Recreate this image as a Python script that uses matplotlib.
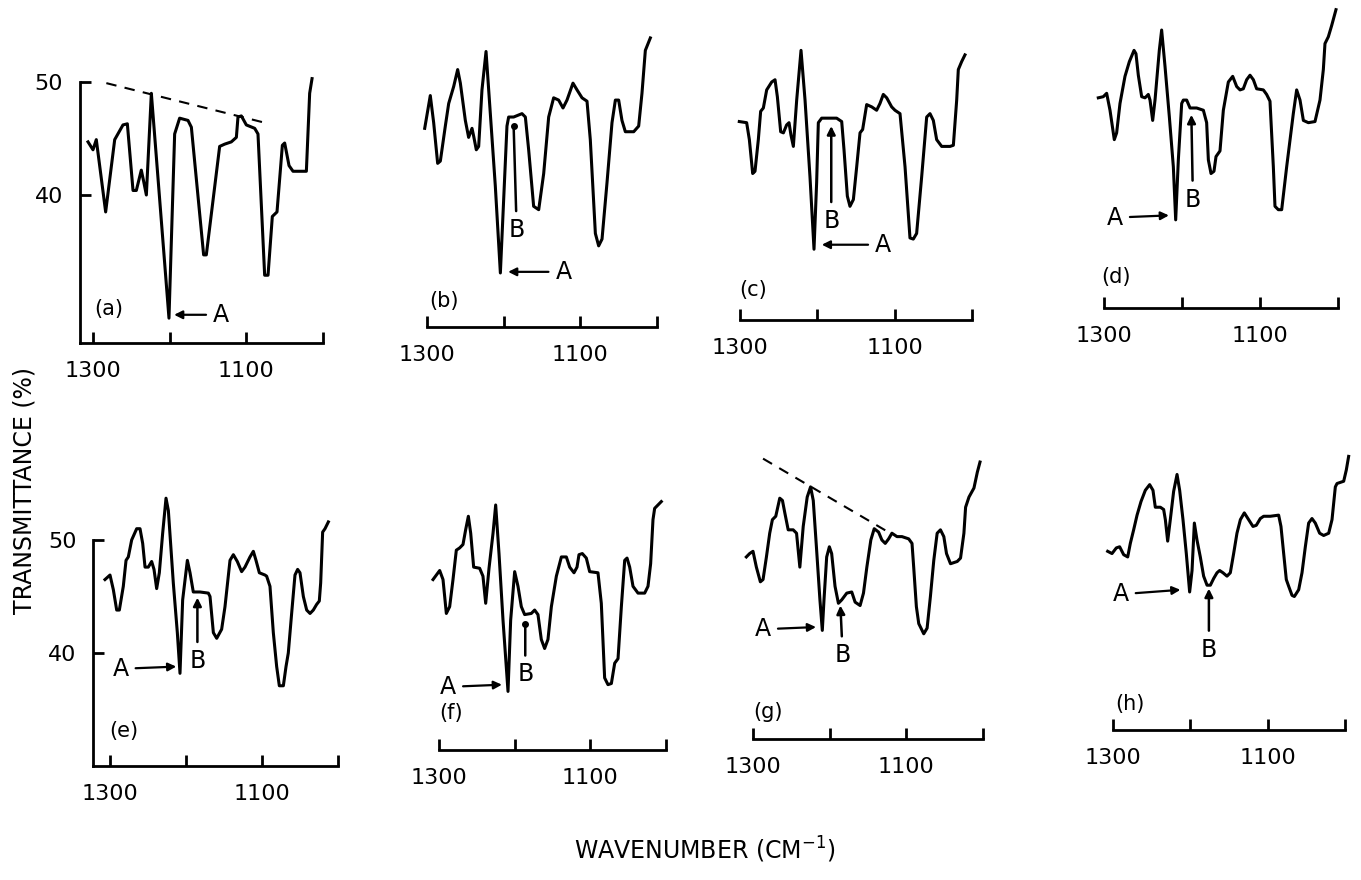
import matplotlib
matplotlib.use("Agg")
import matplotlib.pyplot as plt

# IR spectra, 1300-1000 cm-1, transmittance (%)
wn_a = [1306.5, 1300, 1295.7, 1283.5, 1271.7, 1260.9, 1255.2, 1247.8, 1243.5, 1237, 1233.9, 1230.4,
        1223.9, 1200.9, 1193.5, 1187, 1176.1, 1171.7, 1155.7, 1152.2, 1134.8, 1128.3, 1119.6, 1113,
        1110.9, 1106.5, 1100, 1089.1, 1084.8, 1076.1, 1071.7, 1066.1, 1060, 1053, 1050, 1044.3,
        1039.1, 1021.7, 1017.4, 1014.3]
tr_a = [44.7, 44.0, 44.9, 38.5, 44.9, 46.2, 46.3, 40.4, 40.4, 42.2, 41.2, 40.0,
        49.0, 29.1, 45.4, 46.8, 46.6, 46.0, 34.7, 34.7, 44.3, 44.5, 44.7, 45.1,
        46.9, 47.0, 46.2, 45.9, 45.4, 32.9, 32.9, 38.1, 38.5, 44.4, 44.6, 42.6,
        42.1, 42.1, 49.0, 50.3]

wn_b = [1303, 1295.7, 1291.3, 1286.1, 1282.6, 1276.1, 1271.7, 1265.2, 1260, 1256.5, 1250, 1245.7,
        1241.3, 1239.1, 1235.7, 1232.6, 1228.3, 1223, 1217.4, 1210.9, 1204.3, 1200, 1195.7, 1193.5,
        1187, 1176.1, 1171.7, 1167.4, 1160.9, 1154.3, 1147.8, 1141.3, 1134.8, 1128.3, 1122.6, 1117.4,
        1109.6, 1104.3, 1097.8, 1091.3, 1087, 1080.4, 1076.1, 1071.7, 1065.2, 1058.7, 1054.3, 1050,
        1045.7, 1041.3, 1030.4, 1023.9, 1019.6, 1015.2, 1008.7]
tr_b = [45.9, 48.8, 46.4, 42.8, 43.0, 46.1, 48.1, 49.6, 51.1, 49.9, 46.6, 45.1,
        45.9, 45.2, 44.0, 44.3, 49.3, 52.7, 47.2, 40.8, 33.1, 39.6, 46.1, 46.9,
        46.9, 47.2, 46.9, 44.0, 39.0, 38.7, 41.9, 46.9, 48.6, 48.4, 47.7, 48.4,
        49.9, 49.3, 48.6, 48.3, 44.9, 36.6, 35.5, 36.1, 41.1, 46.4, 48.4, 48.4,
        46.6, 45.6, 45.6, 46.1, 49.0, 52.8, 53.9]

wn_c = [1300.9, 1291.4, 1287.9, 1283.6, 1280.6, 1276.3, 1273.3, 1269.8, 1265.5, 1259, 1254.7, 1251.7,
        1247.4, 1243.9, 1239.7, 1236.6, 1234.1, 1231, 1226.7, 1221.1, 1215.9, 1209.5, 1204.3, 1200.9,
        1198.7, 1194.4, 1183.6, 1175, 1168.5, 1165.5, 1161.2, 1157.8, 1153.4, 1149.1, 1144.8, 1141.4,
        1136.2, 1129.7, 1123.3, 1119, 1114.7, 1110.3, 1103.9, 1099.6, 1093.1, 1086.6, 1080.2, 1075.9,
        1071.6, 1065.1, 1058.6, 1054.3, 1050, 1045.7, 1039.2, 1028.4, 1024.1, 1019.8, 1017.7, 1013.4,
        1009.1]
tr_c = [46.5, 46.4, 44.9, 41.9, 42.1, 44.9, 47.4, 47.7, 49.3, 50.0, 50.2, 48.7,
        45.6, 45.5, 46.2, 46.4, 45.3, 44.3, 48.4, 52.8, 48.4, 41.6, 35.2, 41.1,
        46.4, 46.8, 46.8, 46.8, 46.5, 44.0, 39.9, 39.0, 39.6, 42.5, 45.5, 45.8,
        48.0, 47.8, 47.5, 48.1, 48.9, 48.6, 47.8, 47.5, 47.2, 42.5, 36.2, 36.1,
        36.6, 41.6, 46.9, 47.2, 46.6, 44.9, 44.3, 44.3, 44.4, 48.4, 51.1, 51.8,
        52.4]

wn_d = [1307.3, 1300.9, 1296.6, 1292.3, 1286.8, 1283.8, 1279.5, 1273.1, 1267.5, 1261.5, 1259, 1256,
        1251.7, 1247.4, 1243.2, 1241, 1237.6, 1234.6, 1229.1, 1226.1, 1221.8, 1216.2, 1211.1, 1208.1,
        1204.7, 1200.4, 1198.3, 1194, 1189.7, 1181.2, 1172.6, 1168.4, 1166.2, 1162.8, 1159, 1156.4,
        1151.3, 1147, 1140.6, 1135, 1129.9, 1125.6, 1121.4, 1117.1, 1112.8, 1108.5, 1104.3, 1095.7,
        1091.5, 1087.2, 1082.9, 1080.8, 1076.5, 1072.2, 1065.8, 1057.3, 1053, 1048.7, 1044.4, 1038,
        1029.5, 1023.1, 1018.8, 1016.7, 1012.4, 1008.1, 1002.6]
tr_d = [48.6, 48.7, 49.0, 47.5, 44.9, 45.5, 48.1, 50.5, 51.8, 52.8, 52.5, 50.6,
        48.7, 48.6, 48.9, 48.4, 46.6, 48.4, 52.8, 54.6, 51.4, 46.9, 42.5, 37.8,
        43.1, 48.1, 48.4, 48.4, 47.7, 47.7, 47.5, 46.4, 43.1, 41.9, 42.1, 43.4,
        43.9, 47.5, 50.0, 50.5, 49.6, 49.3, 49.4, 50.2, 50.6, 50.2, 49.4, 49.3,
        48.9, 48.3, 42.5, 39.0, 38.7, 38.7, 42.5, 47.2, 49.3, 48.4, 46.6, 46.4,
        46.5, 48.4, 51.1, 53.4, 54.0, 55.0, 56.4]

wn_e = [1306.6, 1300, 1295.6, 1291.2, 1287.7, 1282.5, 1278.9, 1275.9, 1271.5, 1264.9, 1260.5, 1257,
        1253.9, 1249.6, 1245.2, 1242.1, 1238.6, 1235.1, 1230.7, 1226.3, 1223.2, 1216.7, 1211.4, 1207.9,
        1204.4, 1198.2, 1194.7, 1190.4, 1181.6, 1170.6, 1168.4, 1164, 1159.6, 1153.1, 1148.7, 1142.1,
        1137.7, 1132.5, 1126.8, 1122.4, 1115.8, 1111.4, 1107.9, 1103.5, 1096.1, 1093.9, 1089.5, 1085.1,
        1080.7, 1077.2, 1071.9, 1068.4, 1065.4, 1061, 1056.6, 1053.1, 1050, 1045.6, 1041.2, 1036.8,
        1032.5, 1028.1, 1024.6, 1022.8, 1020.2, 1017.1, 1012.7]
tr_e = [46.5, 46.9, 45.6, 43.8, 43.8, 45.9, 48.2, 48.5, 50.0, 51.0, 51.0, 49.7,
        47.6, 47.6, 48.1, 47.4, 45.7, 47.1, 50.6, 53.7, 52.6, 46.2, 41.8, 38.2,
        44.7, 48.2, 47.1, 45.4, 45.4, 45.3, 45.0, 41.8, 41.3, 42.1, 44.1, 48.2,
        48.7, 48.1, 47.2, 47.6, 48.5, 49.0, 48.2, 47.1, 46.9, 46.8, 45.9, 41.8,
        38.8, 37.1, 37.1, 38.8, 40.0, 43.5, 46.9, 47.4, 47.1, 45.0, 43.8, 43.5,
        43.8, 44.3, 44.6, 46.2, 50.7, 51.0, 51.6]

wn_f = [1307.9, 1299.1, 1294.7, 1290.3, 1285.9, 1281.5, 1277.1, 1272.7, 1268.3, 1264.8, 1261.2, 1258.1,
        1254.2, 1246.3, 1241.9, 1238.3, 1233.9, 1228.6, 1225.1, 1220.7, 1215.4, 1208.8, 1205.3, 1200,
        1195.6, 1191.2, 1186.8, 1178, 1173.6, 1169.2, 1164.8, 1160.4, 1156, 1151.5, 1144.9, 1138.3,
        1131.7, 1127.3, 1121.6, 1117.6, 1115, 1110.6, 1105.3, 1100.9, 1089.9, 1085.5, 1081.1, 1076.7,
        1072.2, 1067.8, 1063.4, 1059, 1054.6, 1051.5, 1048, 1043.6, 1037, 1028.2, 1023.8, 1020.3,
        1017.2, 1015, 1006.2]
tr_f = [46.5, 47.3, 46.5, 43.5, 44.1, 46.5, 49.1, 49.3, 49.6, 50.9, 52.1, 50.6,
        47.6, 47.5, 46.8, 44.4, 47.5, 50.6, 53.1, 48.8, 42.9, 36.6, 42.9, 47.2,
        45.9, 44.1, 43.4, 43.5, 43.8, 43.4, 41.2, 40.4, 41.2, 44.1, 46.8, 48.5,
        48.5, 47.6, 47.1, 47.6, 48.7, 48.8, 48.4, 47.2, 47.1, 44.4, 37.8, 37.2,
        37.3, 39.1, 39.5, 44.1, 48.2, 48.4, 47.6, 45.9, 45.3, 45.3, 45.9, 47.9,
        51.8, 52.8, 53.4]

wn_g = [1308.7, 1304.4, 1300, 1295.6, 1290.4, 1286.9, 1282.5, 1278.2, 1274.7, 1270.3, 1265.1, 1261.6,
        1258.5, 1254.1, 1247.6, 1243.2, 1238.9, 1234.5, 1229.3, 1224.9, 1221.4, 1217, 1212.7, 1209.6,
        1207.4, 1203.9, 1200.4, 1197.4, 1193, 1188.6, 1184.3, 1177.7, 1171.2, 1166.8, 1160.3, 1155.9,
        1151.5, 1146.3, 1141.9, 1136.2, 1131.9, 1127.5, 1123.1, 1118.8, 1112.2, 1105.7, 1096.9, 1092.6,
        1090.4, 1086.9, 1083.8, 1077.3, 1072.9, 1068.6, 1064.2, 1059.8, 1055.5, 1051.1, 1047.6, 1042.4,
        1033.6, 1029.3, 1024.9, 1022.7, 1018.3, 1011.8, 1007.4, 1003.9]
tr_g = [48.5, 48.8, 49.0, 47.6, 46.3, 46.5, 48.5, 50.6, 51.8, 52.1, 53.7, 53.5,
        52.4, 50.9, 50.9, 50.6, 47.6, 51.2, 53.8, 54.7, 53.5, 49.1, 44.7, 42.0,
        44.7, 48.5, 49.4, 48.8, 45.9, 44.4, 44.7, 45.3, 45.4, 44.5, 44.2, 45.3,
        47.6, 50.0, 51.0, 50.7, 50.0, 49.7, 50.1, 50.6, 50.3, 50.3, 50.1, 49.7,
        47.6, 44.1, 42.6, 41.7, 42.2, 45.0, 48.2, 50.6, 50.9, 50.3, 48.8, 47.9,
        48.1, 48.4, 50.6, 52.9, 53.8, 54.6, 56.0, 56.9]

wn_h = [1306.9, 1301.3, 1295.7, 1291.4, 1286.2, 1281, 1277.6, 1273.3, 1268.9, 1263.8, 1258.2, 1252.6,
        1248.3, 1245.3, 1238.8, 1234.5, 1232.3, 1229.3, 1225.9, 1221.6, 1217.2, 1213.8, 1209.5, 1205.2,
        1200.9, 1197.8, 1194.8, 1191.4, 1187.1, 1182.8, 1178.4, 1174.1, 1169.8, 1165.5, 1162.1, 1157.8,
        1152.6, 1148.3, 1144, 1139.7, 1135.3, 1130.2, 1124.6, 1119, 1114.7, 1109.5, 1105.2, 1096.6,
        1085.8, 1082.8, 1079.3, 1075.9, 1072.8, 1068.5, 1065.5, 1059.9, 1055.6, 1051.3, 1047, 1042.7,
        1038.4, 1032.8, 1027.6, 1021.1, 1016.8, 1012.5, 1010.3, 1001.7, 998.3, 995.3]
tr_h = [49.0, 48.8, 49.3, 49.4, 48.7, 48.5, 49.7, 50.9, 52.2, 53.4, 54.4, 54.9,
        54.4, 52.9, 52.9, 52.7, 51.8, 49.9, 51.8, 54.3, 55.8, 54.4, 51.8, 48.8,
        45.4, 47.3, 51.5, 50.0, 48.5, 46.8, 46.0, 46.0, 46.6, 47.1, 47.3, 47.1,
        46.8, 47.1, 48.8, 50.6, 51.8, 52.4, 51.8, 51.2, 51.3, 51.9, 52.1, 52.1,
        52.2, 51.2, 48.8, 46.5, 45.9, 45.1, 45.0, 45.6, 47.1, 49.4, 51.5, 51.9,
        51.5, 50.6, 50.4, 50.6, 51.8, 54.7, 55.0, 55.2, 56.2, 57.4]

# band A and band B positions (wavenumber, transmittance) marked on each trace
band_a = {'a': (1196, 29.4), 'b': (1196, 33.2), 'c': (1196, 35.6), 'd': (1215, 38.2),
          'e': (1211, 38.8), 'f': (1215, 37.2), 'g': (1216, 42.3), 'h': (1211, 45.6)}
band_b = {'b': (1187, 46.1), 'c': (1182, 46.1), 'd': (1188, 47.1), 'e': (1185, 44.9),
          'f': (1186, 42.6), 'g': (1186, 44.2), 'h': (1176, 45.7)}

# dashed baselines drawn in (a) and (g)
base_a = ([1282.6, 1076.1], [49.9, 46.4])
base_g = ([1286.9, 1121.0], [57.2, 50.6])

spectra = {'a': (wn_a, tr_a), 'b': (wn_b, tr_b), 'c': (wn_c, tr_c), 'd': (wn_d, tr_d),
           'e': (wn_e, tr_e), 'f': (wn_f, tr_f), 'g': (wn_g, tr_g), 'h': (wn_h, tr_h)}

W, H = 1361, 880
ROW_PY50 = [82, 540]   # pixel row of the 50 % level in each row of panels
PX_PER_PCT = 11.3

# layout: pixel x of 1300 / 1000 ticks, row, axis baseline (%), y axis shown, axis start
layout = {
    'a': (93, 323, 0, 26.9, True, 1317),
    'b': (427, 657, 0, 28.3, False, 1300),
    'c': (740, 972, 0, 28.9, False, 1300),
    'd': (1104, 1338, 0, 30.0, False, 1300),
    'e': (110, 338, 1, 30.0, True, 1322),
    'f': (439, 666, 1, 31.4, False, 1300),
    'g': (753, 983, 1, 32.4, False, 1300),
    'h': (1113, 1345, 1, 33.2, False, 1300),
}
# (label position in data units) and (A text, B text) placement
tag_pos = {'a': (1280, 29.9), 'b': (1278, 30.6), 'c': (1283, 31.6), 'd': (1285, 32.7),
           'e': (1282, 33.1), 'f': (1284, 34.7), 'g': (1280, 34.8), 'h': (1278, 35.5)}
a_text = {'a': (1133, 29.4), 'b': (1122, 33.2), 'c': (1115, 35.6), 'd': (1286, 38.0),
          'e': (1286, 38.6), 'f': (1288, 37.0), 'g': (1287, 42.1), 'h': (1290, 45.2)}
b_text = {'b': (1183, 36.9), 'c': (1182, 37.7), 'd': (1186, 39.6), 'e': (1185, 39.3),
          'f': (1186, 38.1), 'g': (1183, 39.8), 'h': (1176, 40.3)}
dot_head = {'b', 'f'}

XR = 985
TOP = 58

fig = plt.figure(figsize=(W / 100, H / 100), dpi=100)
fig.patch.set_facecolor('white')

for key, (x1300, x1000, row, base, yaxis, xstart) in layout.items():
    ppw = (x1000 - x1300) / 300.0
    xl = max(xstart, 1300) + 8 if not yaxis else xstart
    left_px = x1300 - (xl - 1300) * ppw
    right_px = x1300 + (1300 - XR) * ppw
    py50 = ROW_PY50[row]
    bot_px = py50 + (50 - base) * PX_PER_PCT
    top_px = py50 - (TOP - 50) * PX_PER_PCT
    ax = fig.add_axes([left_px / W, 1 - bot_px / H, (right_px - left_px) / W, (bot_px - top_px) / H])
    ax.set_xlim(xl, XR)
    ax.set_ylim(base, TOP)
    ax.patch.set_alpha(0)

    for s in ['top', 'right']:
        ax.spines[s].set_visible(False)
    ax.spines['bottom'].set_bounds(xstart, 1000)
    ax.spines['bottom'].set_linewidth(2)
    ax.set_xticks([1300, 1200, 1100, 1000])
    ax.set_xticklabels(['1300', '', '1100', ''])
    ax.tick_params(axis='x', direction='in', length=8, width=2, pad=13, labelsize=16)

    if yaxis:
        ax.spines['left'].set_bounds(base, 50)
        ax.spines['left'].set_linewidth(2)
        ax.set_yticks([40, 50])
        ax.tick_params(axis='y', direction='in', length=8, width=2, pad=12, labelsize=16)
    else:
        ax.spines['left'].set_visible(False)
        ax.set_yticks([])

    wn, tr = spectra[key]
    ax.plot(wn, tr, color='black', lw=2.2, clip_on=False, solid_joinstyle='round')

    ax.text(*tag_pos[key], f'({key})', fontsize=15, ha='center', va='center')

    ax.annotate('A', xy=band_a[key], xytext=a_text[key], fontsize=17, ha='center', va='center',
                arrowprops=dict(arrowstyle='-|>', lw=1.6, color='black', mutation_scale=12,
                                shrinkA=3, shrinkB=1))
    if key in band_b:
        if key in dot_head:
            ax.annotate('B', xy=band_b[key], xytext=b_text[key], fontsize=17, ha='center', va='center',
                        arrowprops=dict(arrowstyle='-', lw=1.8, color='black', shrinkA=3, shrinkB=0))
            ax.plot([band_b[key][0]], [band_b[key][1]], 'o', color='black', ms=4)
        else:
            ax.annotate('B', xy=band_b[key], xytext=b_text[key], fontsize=17, ha='center', va='center',
                        arrowprops=dict(arrowstyle='-|>', lw=1.8, color='black', mutation_scale=12,
                                        shrinkA=3, shrinkB=0))

    if key == 'a':
        ax.plot(*base_a, color='black', lw=1.5, ls=(0, (5, 4)))
    if key == 'g':
        ax.plot(*base_g, color='black', lw=1.5, ls=(0, (5, 4)), clip_on=False)

fig.text(25 / W, 1 - 490 / H, 'TRANSMITTANCE (%)', rotation=90, fontsize=17, ha='center', va='center')
fig.text(705 / W, 1 - 850 / H, 'WAVENUMBER (CM$^{-1}$)', fontsize=17, ha='center', va='center')

fig.savefig('out.png', dpi=100, facecolor='white')
